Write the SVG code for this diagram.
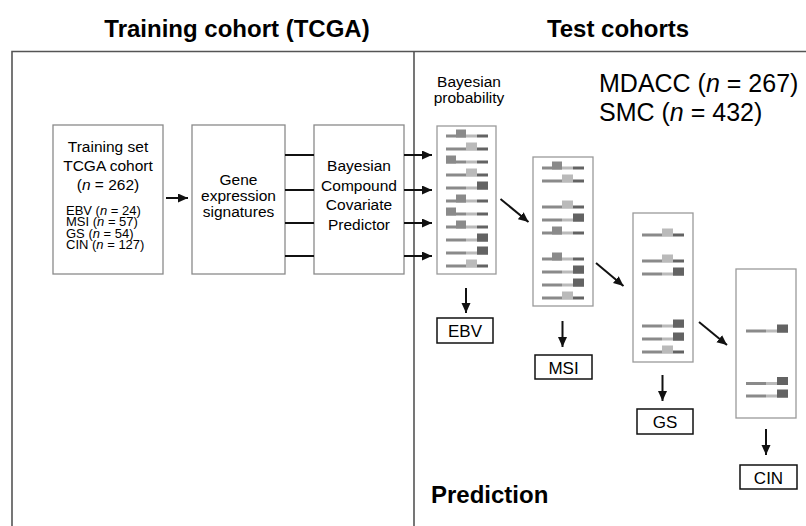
<svg xmlns="http://www.w3.org/2000/svg" xmlns:xlink="http://www.w3.org/1999/xlink" width="806" height="526" viewBox="0 0 806 526">
<style>
text{font-family:"Liberation Sans",Arial,sans-serif;fill:#000}
.title{font-size:24px;font-weight:bold}
.box{fill:#fff;stroke:#8a8a8a;stroke-width:1.3}
.pbox{fill:#fff;stroke:#9a9a9a;stroke-width:1.3}
.lbox{fill:#fff;stroke:#111;stroke-width:1.5}
.t15{font-size:15.5px;text-anchor:middle}
.t13{font-size:13px}
.lab{font-size:17px;text-anchor:middle}
.frame{stroke:#555;stroke-width:1.6;fill:none}
.con{stroke:#111;stroke-width:2;fill:none}
.m{fill:#8a8a8a}.l{fill:#bababa}.d{fill:#636363}
</style>
<defs>
<marker id="ah" markerUnits="userSpaceOnUse" markerWidth="12" markerHeight="10" refX="10" refY="4.5" orient="auto">
<path d="M0,0 L10,4.5 L0,9 Z" fill="#111"/>
</marker>
<g id="ln"><rect class="m" x="0" y="-1.5" width="20" height="3"/><rect class="l" x="20" y="-1.5" width="11" height="3"/><rect class="d" x="31" y="-1.5" width="11" height="3"/></g>
<g id="s1"><use xlink:href="#ln"/><rect class="m" x="0" y="-6.5" width="10" height="8"/></g>
<g id="s2"><use xlink:href="#ln"/><rect class="m" x="10" y="-6.5" width="10" height="8"/></g>
<g id="s3"><use xlink:href="#ln"/><rect class="l" x="20" y="-6.5" width="11" height="8"/></g>
<g id="s4"><use xlink:href="#ln"/><rect class="d" x="31" y="-6.5" width="11" height="8"/></g>
</defs>
<rect width="806" height="526" fill="#fff"/>

<g id="frame">
<path class="frame" d="M12,526 V51.5 H806 M414,51.5 V526"/>
<text class="title" x="237" y="37" text-anchor="middle">Training cohort (TCGA)</text>
<text class="title" x="618" y="37" text-anchor="middle">Test cohorts</text>
<text class="title" x="431" y="503">Prediction</text>
</g>

<g id="training-set">
<rect class="box" x="53" y="125" width="110" height="149"/>
<text class="t15" x="108" y="152">Training set</text>
<text class="t15" x="108" y="171">TCGA cohort</text>
<text class="t15" x="108" y="190">(<tspan font-style="italic">n</tspan> = 262)</text>
<text class="t13" x="66" y="214.5">EBV (<tspan font-style="italic">n</tspan> = 24)</text>
<text class="t13" x="66" y="226">MSI (<tspan font-style="italic">n</tspan> = 57)</text>
<text class="t13" x="66" y="237.5">GS (<tspan font-style="italic">n</tspan> = 54)</text>
<text class="t13" x="66" y="249">CIN (<tspan font-style="italic">n</tspan> = 127)</text>
</g>

<g id="gene-signatures">
<rect class="box" x="192" y="125" width="93" height="149"/>
<text class="t15" x="238.5" y="185">Gene</text>
<text class="t15" x="238.5" y="201">expression</text>
<text class="t15" x="238.5" y="217">signatures</text>
</g>

<g id="bccp">
<rect class="box" x="314" y="125" width="90" height="149"/>
<text class="t15" x="359" y="171">Bayesian</text>
<text class="t15" x="359" y="190.5">Compound</text>
<text class="t15" x="359" y="210">Covariate</text>
<text class="t15" x="359" y="229.5">Predictor</text>
</g>

<g id="cohorts-label">
<text x="599" y="92" font-size="25px">MDACC (<tspan font-style="italic">n</tspan> = 267)</text>
<text x="599" y="121" font-size="25px">SMC (<tspan font-style="italic">n</tspan> = 432)</text>
<text class="t15" x="469" y="87">Bayesian</text>
<text class="t15" x="469" y="103">probability</text>
</g>

<g id="prob-ebv">
<rect class="pbox" x="437" y="126" width="59" height="148"/>
<use xlink:href="#s2" x="446" y="136"/>
<use xlink:href="#s3" x="446" y="149"/>
<use xlink:href="#s1" x="446" y="162"/>
<use xlink:href="#s3" x="446" y="175"/>
<use xlink:href="#s4" x="446" y="188"/>
<use xlink:href="#s2" x="446" y="201"/>
<use xlink:href="#s1" x="446" y="214"/>
<use xlink:href="#s2" x="446" y="227"/>
<use xlink:href="#s4" x="446" y="240"/>
<use xlink:href="#s4" x="446" y="253"/>
<use xlink:href="#s3" x="446" y="266"/>
</g>

<g id="prob-msi">
<rect class="pbox" x="533" y="157" width="60" height="149"/>
<use xlink:href="#s2" x="542" y="168"/>
<use xlink:href="#s3" x="542" y="181"/>
<use xlink:href="#s3" x="542" y="207"/>
<use xlink:href="#s4" x="542" y="220"/>
<use xlink:href="#s2" x="542" y="233"/>
<use xlink:href="#s2" x="542" y="259"/>
<use xlink:href="#s4" x="542" y="272"/>
<use xlink:href="#s4" x="542" y="285"/>
<use xlink:href="#s3" x="542" y="298"/>
</g>

<g id="prob-gs">
<rect class="pbox" x="633" y="213" width="60" height="149"/>
<use xlink:href="#s3" x="642" y="235"/>
<use xlink:href="#s3" x="642" y="261"/>
<use xlink:href="#s4" x="642" y="274"/>
<use xlink:href="#s4" x="642" y="326"/>
<use xlink:href="#s4" x="642" y="339"/>
<use xlink:href="#s3" x="642" y="352"/>
</g>

<g id="prob-cin">
<rect class="pbox" x="736" y="269" width="60" height="149"/>
<use xlink:href="#s4" x="746" y="331"/>
<use xlink:href="#s4" x="746" y="383.5"/>
<use xlink:href="#s4" x="746" y="396"/>
</g>

<g id="label-ebv"><rect class="lbox" x="437" y="318" width="56" height="25"/><text class="lab" x="465" y="337">EBV</text></g>
<g id="label-msi"><rect class="lbox" x="535" y="355" width="57" height="24"/><text class="lab" x="563.5" y="373.5">MSI</text></g>
<g id="label-gs"><rect class="lbox" x="637" y="409" width="56" height="25"/><text class="lab" x="665" y="428">GS</text></g>
<g id="label-cin"><rect class="lbox" x="740" y="465" width="57" height="24"/><text class="lab" x="768.5" y="483.5">CIN</text></g>

<g id="connectors">
<line class="con" x1="166" y1="198" x2="188" y2="198" marker-end="url(#ah)"/>
<line class="con" x1="285" y1="155" x2="314" y2="155"/>
<line class="con" x1="285" y1="190" x2="314" y2="190"/>
<line class="con" x1="285" y1="223" x2="314" y2="223"/>
<line class="con" x1="285" y1="256" x2="314" y2="256"/>
<line class="con" x1="404" y1="155" x2="432" y2="155" marker-end="url(#ah)"/>
<line class="con" x1="404" y1="190" x2="432" y2="190" marker-end="url(#ah)"/>
<line class="con" x1="404" y1="223" x2="432" y2="223" marker-end="url(#ah)"/>
<line class="con" x1="404" y1="256" x2="432" y2="256" marker-end="url(#ah)"/>
<line class="con" x1="500.5" y1="199" x2="528.5" y2="222" marker-end="url(#ah)"/>
<line class="con" x1="596" y1="263" x2="623.5" y2="286" marker-end="url(#ah)"/>
<line class="con" x1="699" y1="322" x2="727" y2="345" marker-end="url(#ah)"/>
<line class="con" x1="466" y1="288" x2="466" y2="313" marker-end="url(#ah)"/>
<line class="con" x1="562.5" y1="321" x2="562.5" y2="347" marker-end="url(#ah)"/>
<line class="con" x1="662.5" y1="375" x2="662.5" y2="401" marker-end="url(#ah)"/>
<line class="con" x1="766" y1="429" x2="766" y2="455" marker-end="url(#ah)"/>
</g>
</svg>
